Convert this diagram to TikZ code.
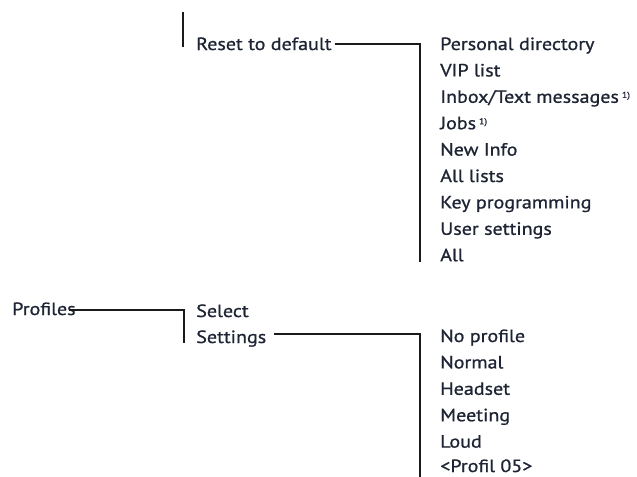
\documentclass[tikz,border=0pt]{standalone}
\usepackage{fontspec}
\setmainfont[FakeStretch=1.13,FakeBold=0.9]{PT Sans}
\definecolor{txt}{HTML}{1E2433}
\definecolor{ln}{HTML}{1A1A1A}
\newcommand{\fnmark}{\,\raisebox{0.55ex}{\fontsize{6.5}{7}\selectfont 1)}}
\begin{document}
\begin{tikzpicture}[x=0.75pt,y=-0.75pt,
  lbl/.style={anchor=base west, inner sep=0pt, text=txt, font=\fontsize{13.3}{15}\selectfont},
  conn/.style={draw=ln, line width=1.5pt}]
\useasboundingbox (0,0) rectangle (637,476);

% top section
\coordinate (t1) at (183,12);
\coordinate (t2) at (183,47);
\draw[conn] (t1) -- (t2);
\node[lbl] (reset) at (196,50) {Reset to default};
\coordinate (b1top) at (420,44);
\coordinate (b1bot) at (420,262);
\coordinate (r1) at ([xshift=2]reset.east |- b1top);
\draw[conn] (r1) -- (b1top) -- (b1bot);

\node[lbl] (i1) at (440,50.0) {Personal directory};
\node[lbl] (i2) at (440,76.4) {VIP list};
\node[lbl] (i3) at (440,102.8) {Inbox/Text messages\fnmark};
\node[lbl] (i4) at (440,129.2) {Jobs\fnmark};
\node[lbl] (i5) at (440,155.6) {New Info};
\node[lbl] (i6) at (440,182.0) {All lists};
\node[lbl] (i7) at (440,208.4) {Key programming};
\node[lbl] (i8) at (440,234.8) {User settings};
\node[lbl] (i9) at (440,261.2) {All};

% profiles section
\node[lbl] (profiles) at (12,315) {Profiles};
\coordinate (p1) at (184,310);
\coordinate (p2) at (184,343);
\coordinate (p0) at ([xshift=-5]profiles.east |- p1);
\draw[conn] (p0) -- (p1) -- (p2);
\node[lbl] (select) at (196,317) {Select};
\node[lbl] (settings) at (196,343) {Settings};
\coordinate (b2top) at (420,334);
\coordinate (b2bot) at (420,480);
\coordinate (s1) at ([xshift=6]settings.east |- b2top);
\draw[conn] (s1) -- (b2top) -- (b2bot);

\node[lbl] (j1) at (440,342.0) {No profile};
\node[lbl] (j2) at (440,368.4) {Normal};
\node[lbl] (j3) at (440,394.8) {Headset};
\node[lbl] (j4) at (440,421.2) {Meeting};
\node[lbl] (j5) at (440,447.6) {Loud};
\node[lbl] (j6) at (440,472.0) {<Profil 05>};
\end{tikzpicture}
\end{document}
